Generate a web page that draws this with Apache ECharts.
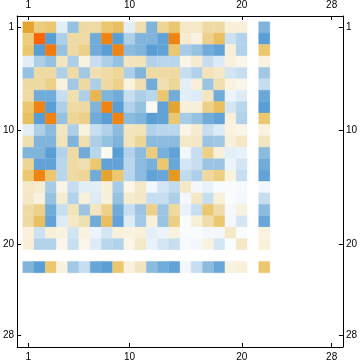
<!DOCTYPE html>
<html><head><meta charset="utf-8">
<script src="https://cdn.jsdelivr.net/npm/echarts@6/dist/echarts.min.js"></script>
<style>html,body{margin:0;padding:0;background:#fff}#c{width:360px;height:363px}</style>
</head><body><div id="c"></div>
<script>
var tickValues = [1, 10, 20, 28];
var colIndex = [1,2,3,4,5,6,7,8,9,10,11,12,13,14,15,16,17,18,19,20,21,22];
var row1  = [0.7, 0.45, 0.5, -0.1, -0.4, 0.3, 0.3, 0.5, 0.55, -0.1, 0.25, -0.5, 0.35, 0.5, 0.18, 0.18, 0.3, 0.3, 0.12, 0.12, 0, -0.5];
var row2  = [0.45, 1.0, -0.75, -0.3, 0.3, 0.3, -0.6, 0.85, -0.75, -0.3, -0.5, -0.5, -0.7, 0.85, 0.15, 0.1, 0.4, 0.55, -0.18, -0.28, 0, -0.75];
var row3  = [0.5, -0.75, 0.9, -0.4, 0.3, 0.4, -0.6, -0.75, 0.85, -0.45, -0.5, -0.75, -0.7, 0.5, -0.32, -0.4, -0.6, -0.7, 0.12, -0.28, 0, 0.5];
var row4  = [-0.1, -0.3, -0.4, 0.2, -0.3, 0.1, -0.2, -0.3, -0.4, 0.2, 0.22, -0.28, -0.25, -0.25, 0.08, 0.15, -0.2, -0.12, 0.1, 0.07, 0, 0.1];
var row5  = [-0.4, 0.3, 0.3, -0.3, 0.3, -0.35, 0.25, 0.3, 0.35, -0.3, -0.5, 0.3, 0.3, 0.3, -0.2, -0.28, 0.22, 0.18, -0.16, -0.2, 0, -0.35];
var row6  = [0.3, 0.3, 0.4, 0.1, -0.35, 0.3, -0.3, 0.3, 0.4, 0.1, 0.25, -0.6, 0.25, 0.35, -0.1, 0.12, -0.38, 0.25, 0.1, 0.07, 0, -0.2];
var row7  = [0.3, -0.6, -0.6, -0.2, 0.25, -0.3, 0.6, -0.5, -0.6, -0.2, -0.3, -0.25, 0.5, -0.6, -0.1, -0.12, 0.2, -0.6, -0.07, -0.12, 0, -0.65];
var row8  = [0.5, 0.85, -0.75, -0.3, 0.3, 0.3, -0.5, 0.85, -0.75, -0.28, -0.4, 0.05, -0.7, 0.7, 0.12, 0.12, 0.4, 0.55, -0.15, -0.25, 0, -0.75];
var row9  = [0.55, -0.75, 0.85, -0.4, 0.35, 0.4, -0.6, -0.75, 0.85, -0.45, -0.5, -0.75, -0.7, 0.5, -0.32, -0.4, -0.6, -0.7, 0.12, -0.28, 0, 0.5];
var row10 = [-0.1, -0.3, -0.45, 0.2, -0.3, 0.1, -0.2, -0.28, -0.45, 0.2, 0.22, -0.28, -0.25, -0.25, 0.08, 0.15, -0.2, -0.12, 0.1, 0.08, 0, 0.1];
var row11 = [0.25, -0.5, -0.5, 0.22, -0.5, 0.25, -0.3, -0.4, -0.5, 0.22, 0.35, -0.45, -0.45, -0.45, 0.18, 0.18, -0.38, -0.35, 0.12, 0.18, 0, 0.2];
var row12 = [-0.5, -0.5, -0.75, -0.28, 0.3, -0.6, -0.25, 0.05, -0.75, -0.28, -0.45, 0.45, -0.55, -0.7, -0.05, -0.2, 0.4, 0.12, -0.1, -0.08, 0, -0.45];
var row13 = [0.35, -0.7, -0.7, -0.25, 0.3, 0.25, 0.5, -0.7, -0.7, -0.25, -0.45, -0.55, 0.5, -0.65, -0.15, -0.2, -0.38, -0.38, -0.07, -0.15, 0, -0.6];
var row14 = [0.5, 0.85, 0.5, -0.25, 0.3, 0.35, -0.6, 0.7, 0.5, -0.25, -0.45, -0.7, -0.65, 0.75, -0.22, -0.3, 0.32, 0.42, 0.1, -0.2, 0, -0.7];
var row15 = [0.18, 0.15, -0.32, 0.08, -0.2, -0.1, -0.1, 0.12, -0.32, 0.08, 0.18, -0.05, -0.15, -0.22, 0.18, -0.04, -0.08, -0.02, -0.02, -0.03, 0, -0.05];
var row16 = [0.18, 0.1, -0.4, 0.15, -0.28, 0.12, -0.12, 0.12, -0.4, 0.15, 0.18, -0.2, -0.2, -0.3, -0.04, 0.18, -0.2, 0.12, -0.02, -0.04, 0, -0.2];
var row17 = [0.3, 0.4, -0.6, -0.2, 0.22, -0.38, 0.2, 0.4, -0.6, -0.2, -0.38, 0.4, -0.38, 0.32, -0.08, -0.2, 0.5, 0.28, -0.04, 0.1, 0, -0.45];
var row18 = [0.3, 0.55, -0.7, -0.12, 0.18, 0.25, -0.6, 0.55, -0.7, -0.12, -0.35, 0.12, -0.38, 0.42, -0.02, 0.12, 0.28, 0.5, -0.04, -0.15, 0, -0.65];
var row19 = [0.12, -0.18, 0.12, 0.1, -0.16, 0.1, -0.07, -0.15, 0.12, 0.1, 0.12, -0.1, -0.07, 0.1, -0.02, -0.02, -0.04, -0.04, 0.18, -0.02, 0, 0.1];
var row20 = [0.12, -0.28, -0.28, 0.07, -0.2, 0.07, -0.12, -0.25, -0.28, 0.08, 0.18, -0.08, -0.15, -0.2, -0.03, -0.04, 0.1, -0.15, -0.02, 0.18, 0, 0.12];
var row21 = [0, 0, 0, 0, 0, 0, 0, 0, 0, 0, 0, 0, 0, 0, 0, 0, 0, 0, 0, 0, 0, 0];
var row22 = [-0.5, -0.75, 0.5, 0.1, -0.35, -0.2, -0.65, -0.75, 0.5, 0.1, 0.2, -0.45, -0.6, -0.7, -0.05, -0.2, -0.45, -0.65, 0.1, 0.12, 0, 0.5];

var rows = [row1,row2,row3,row4,row5,row6,row7,row8,row9,row10,row11,row12,row13,row14,row15,row16,row17,row18,row19,row20,row21,row22];
var data = [];
rows.forEach(function (r, i) {
  r.forEach(function (v, j) { data.push([colIndex[j], i + 1, v]); });
});

var labelFont = { fontFamily: 'Liberation Sans', fontSize: 10, color: '#000' };
function xAx(pos, margin) {
  return {
    type: 'value', position: pos, min: 0, max: 29,
    axisLine: { show: true, onZero: false, lineStyle: { color: '#000', width: 1 } },
    axisTick: { show: true, inside: true, length: 4, customValues: tickValues, lineStyle: { color: '#000' } },
    axisLabel: Object.assign({ customValues: tickValues, margin: margin }, labelFont),
    splitLine: { show: false }
  };
}
function yAx(pos, margin) {
  return {
    type: 'value', position: pos, min: 0, max: 29, inverse: true,
    axisLine: { show: true, onZero: false, lineStyle: { color: '#000', width: 1 } },
    axisTick: { show: true, inside: true, length: 4, customValues: tickValues, lineStyle: { color: '#000' } },
    axisLabel: Object.assign({ customValues: tickValues, margin: margin }, labelFont),
    splitLine: { show: false }
  };
}

var chart = echarts.init(document.getElementById('c'), null, { renderer: 'canvas' });
chart.setOption({
  animation: false,
  backgroundColor: '#fff',
  grid: { left: 13, top: 15, right: 13.5, bottom: 16, containLabel: false },
  xAxis: [xAx('bottom', 5), xAx('top', 6)],
  yAxis: [yAx('left', 3), yAx('right', 3)],
  visualMap: {
    show: false, type: 'continuous', min: -1, max: 1, dimension: 2, seriesIndex: 0,
    inRange: { color: ['#4a90cc', '#5a9ed6', '#80b4da', '#b8d6ec', '#ffffff', '#f0dfb0', '#ebc870', '#e49a20', '#ff6400'] }
  },
  series: [{
    type: 'custom',
    xAxisIndex: 0, yAxisIndex: 0,
    data: data,
    encode: { x: 0, y: 1 },
    renderItem: function (params, api) {
      var x = api.value(0), y = api.value(1);
      var p0 = api.coord([x - 0.5, y - 0.5]);
      var p1 = api.coord([x + 0.5, y + 0.5]);
      var c = api.visual('color');
      return {
        type: 'rect',
        shape: { x: Math.min(p0[0], p1[0]), y: Math.min(p0[1], p1[1]), width: Math.abs(p1[0] - p0[0]), height: Math.abs(p1[1] - p0[1]) },
        style: { fill: c, stroke: c, lineWidth: 0.3 }
      };
    }
  }]
});
</script>
</body></html>
